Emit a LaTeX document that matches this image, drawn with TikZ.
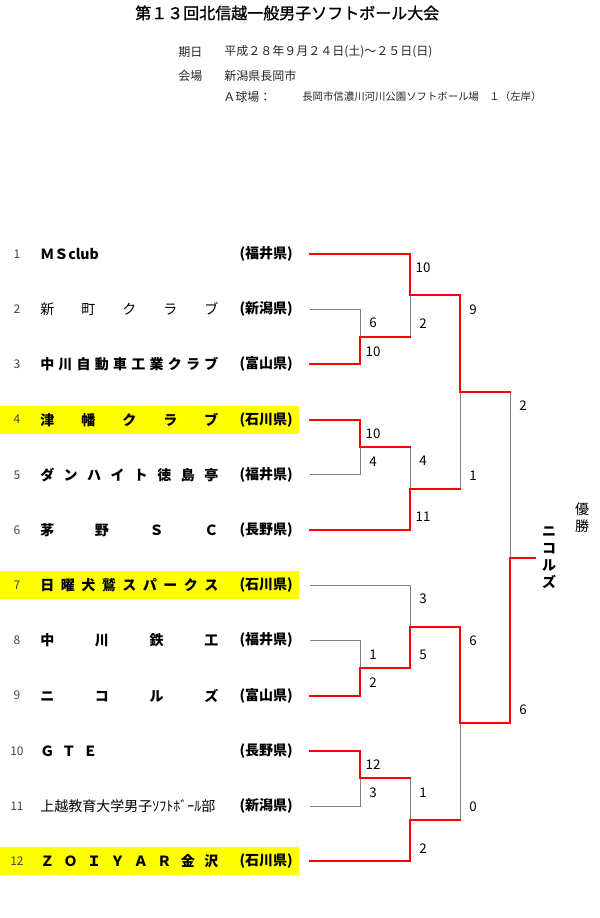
\documentclass[tikz,border=0pt]{standalone}
\usepackage{fontspec}
\setmainfont{Noto Sans CJK JP}
\newfontfamily\titlefont{Noto Sans CJK JP}[FakeBold=1.2]
\usepackage{tikz}
\usetikzlibrary{calc}
\definecolor{winred}{RGB}{255,0,0}
\definecolor{losegray}{RGB}{128,128,128}
\definecolor{hlyellow}{RGB}{255,255,0}
\definecolor{numgray}{RGB}{70,70,70}
\tikzset{win/.style={draw=winred, line width=1.5pt, line cap=rect}}
\tikzset{lose/.style={draw=losegray, line width=0.75pt}}
\tikzset{score/.style={inner sep=0pt, font=\fontsize{10}{10}\selectfont}}
\tikzset{teamname/.style={anchor=west, inner sep=0pt, font=\fontsize{10.5}{10.5}\selectfont\bfseries}}
\tikzset{pref/.style={anchor=east, inner sep=0pt, font=\fontsize{10.5}{10.5}\selectfont\bfseries}}
\tikzset{teamno/.style={inner sep=0pt, text=numgray, font=\fontsize{9}{9}\selectfont}}
\tikzset{header/.style={anchor=west, inner sep=0pt, text=black!85, font=\fontsize{9}{9}\selectfont}}
\tikzset{champ/.style={align=center, inner sep=0pt, font=\fontsize{10.5}{12.75}\selectfont\bfseries}}
\newcommand\spreadname[1]{\makebox[133.5pt][s]{#1}}

\begin{document}
\begin{tikzpicture}[x=0.75pt,y=-0.75pt]
\useasboundingbox (0,0) rectangle (600,918);

% title and dates
\node[anchor=west, inner sep=0pt, font=\fontsize{12}{12}\selectfont\titlefont] (title) at (135,13) {第１３回北信越一般男子ソフトボール大会};
\node[header] (datelbl) at (178,52) {期日};
\node[header] (date) at (224,52) {平成２８年９月２４日(土)～２５日(日)};
\node[header] (placelbl) at (178,76) {会場};
\node[header] (place) at (224,76) {新潟県長岡市};
\node[header] (fieldlbl) at (223,97) {Ａ球場：};
\node[header, font=\fontsize{7.8}{7.8}\selectfont] (field) at (302,97) {長岡市信濃川河川公園ソフトボール場　１（左岸）};

% highlighted rows
\foreach \i in {4,7,12} {
  \pgfmathsetmacro\yy{254+(\i-1)*55.2}
  \fill[hlyellow] (0,\yy-14) rectangle (299,\yy+14);
}

% teams
\foreach \i/\nm/\pf in {
  1/{ＭＳclub}/福井県,
  2/{\mdseries\spreadname{新 町 ク ラ ブ}}/新潟県,
  3/{\spreadname{中 川 自 動 車 工 業 ク ラ ブ}}/富山県,
  4/{\spreadname{津 幡 ク ラ ブ}}/石川県,
  5/{\spreadname{ダ ン ハ イ ト 徳 島 亭}}/福井県,
  6/{\spreadname{茅 野 Ｓ Ｃ}}/長野県,
  7/{\spreadname{日 曜 犬 鷲 ス パ ー ク ス}}/石川県,
  8/{\spreadname{中 川 鉄 工}}/福井県,
  9/{\spreadname{ニ コ ル ズ}}/富山県,
  10/{\makebox[42.75pt][s]{Ｇ Ｔ Ｅ}}/長野県,
  11/{\mdseries\spreadname{上越教育大学男子ｿﾌﾄﾎﾞｰﾙ部}}/新潟県,
  12/{\spreadname{Ｚ Ｏ Ｉ Ｙ Ａ Ｒ 金 沢}}/石川県} {
  \pgfmathsetmacro\yy{254+(\i-1)*55.2}
  \node[teamno] (no\i) at (17,\yy) {\i};
  \node[teamname] (team\i) at (40,\yy) {\nm};
  \node[pref] (pref\i) at (293,\yy) {(\pf)};
  \coordinate (t\i) at (310,\yy);
}

% match joins
\coordinate (m1) at (360,336.8);
\coordinate (m2) at (410,295.4);
\coordinate (m3) at (360,447.2);
\coordinate (m4) at (410,488.6);
\coordinate (m5) at (460,392);
\coordinate (m6) at (360,668);
\coordinate (m7) at (410,626.6);
\coordinate (m8) at (360,778.4);
\coordinate (m9) at (410,819.8);
\coordinate (m10) at (460,723.2);
\coordinate (fin) at (510,557.6);
\coordinate (cup) at (535,557.6);

% losers
\draw[lose] (t2) -| (m1);
\draw[lose] (t5) -| (m3);
\draw[lose] (t8) -| (m6);
\draw[lose] (t11) -| (m8);
\draw[lose] (t7) -| (m7);
\draw[lose] (m1 -| m2) -- (m2);
\draw[lose] (m3 -| m4) -- (m4);
\draw[lose] (m8 -| m9) -- (m9);
\draw[lose] (m4 -| m5) -- (m5);
\draw[lose] (m9 -| m10) -- (m10);
\draw[lose] (m5 -| fin) -- (fin);

% winners
\draw[win] (t3) -| (m1) -- (m1 -| m2);
\draw[win] (t1) -| (m2) -| (m5) -- (m5 -| fin);
\draw[win] (t4) -| (m3) -- (m3 -| m4);
\draw[win] (t6) -| (m4) -- (m4 -| m5);
\draw[win] (t10) -| (m8) -- (m8 -| m9);
\draw[win] (t12) -| (m9) -- (m9 -| m10);
\draw[win] (t9) -| (m6) -| (m7) -| (m10) -| (fin) -- (cup);

% scores
\node[score] at ($(t2 -| m1)+(13,14)$) {6};
\node[score] at ($(t3 -| m1)+(13,-13)$) {10};
\node[score] at ($(t1 -| m2)+(13,14)$) {10};
\node[score] at ($(m1 -| m2)+(13,-13)$) {2};
\node[score] at ($(t4 -| m3)+(13,14)$) {10};
\node[score] at ($(t5 -| m3)+(13,-13)$) {4};
\node[score] at ($(m3 -| m4)+(13,14)$) {4};
\node[score] at ($(t6 -| m4)+(13,-13)$) {11};
\node[score] at ($(m2 -| m5)+(13,14)$) {9};
\node[score] at ($(m4 -| m5)+(13,-13)$) {1};
\node[score] at ($(t8 -| m6)+(13,14)$) {1};
\node[score] at ($(t9 -| m6)+(13,-13)$) {2};
\node[score] at ($(t7 -| m7)+(13,14)$) {3};
\node[score] at ($(m6 -| m7)+(13,-13)$) {5};
\node[score] at ($(t10 -| m8)+(13,14)$) {12};
\node[score] at ($(t11 -| m8)+(13,-13)$) {3};
\node[score] at ($(m8 -| m9)+(13,14)$) {1};
\node[score] at ($(t12 -| m9)+(13,-13)$) {2};
\node[score] at ($(m7 -| m10)+(13,14)$) {6};
\node[score] at ($(m9 -| m10)+(13,-13)$) {0};
\node[score] at ($(m5 -| fin)+(13,14)$) {2};
\node[score] at ($(m10 -| fin)+(13,-13)$) {6};

% champion
\node[champ] (winner) at (549,558) {ニ\\コ\\ル\\ズ};
\node[champ, font=\fontsize{10.5}{12.75}\selectfont] (yusho) at (582,517.5) {優\\勝};
\end{tikzpicture}
\end{document}
